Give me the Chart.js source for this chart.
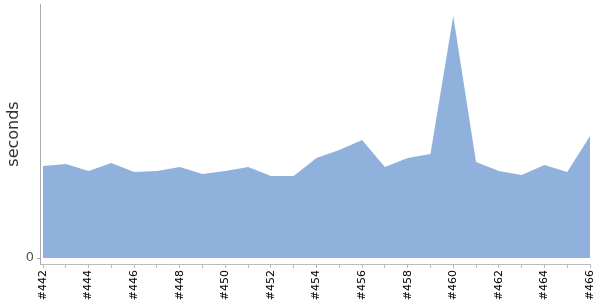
<!DOCTYPE html>
<html><head><meta charset="utf-8">
<script src="https://cdn.jsdelivr.net/npm/chart.js@4/dist/chart.umd.min.js"></script>
<style>html,body{margin:0;padding:0;background:#fff}#wrap{width:600px;height:300px}</style>
</head><body><div id="wrap"><canvas id="c"></canvas></div>
<script>
const builds = [442,443,444,445,446,447,448,449,450,451,452,453,454,455,456,457,458,459,460,461,462,463,464,465,466];
const seconds = [92,94,87,95,86,87,91,84,87,91,82,82,100,108,118,91,100,104,242,96,87,83,93,86,122];
const yTickValues = [0];
const data = builds.map((b,i)=>({x:b,y:seconds[i]}));
new Chart(document.getElementById('c'), {
  type:'line',
  data:{datasets:[{data, fill:'origin', backgroundColor:'#8fb1db', borderColor:'#8fb1db', borderWidth:0, pointRadius:0, tension:0}]},
  options:{
    responsive:true, maintainAspectRatio:false, animation:false,
    layout:{padding:{top:4,right:10,left:0,bottom:0}},
    plugins:{legend:{display:false}, tooltip:{enabled:false}},
    scales:{
      x:{type:'linear', min:441.868, max:466,
        afterBuildTicks:(s)=>{s.ticks=builds.map(v=>({value:v}));},
        afterFit:(s)=>{s.height=36; s.paddingLeft=0; s.paddingRight=0;},
        ticks:{autoSkip:false, minRotation:90, maxRotation:90, color:'#000', padding:2,
          font:{family:'DejaVu Sans', size:11},
          callback:(v)=> (v%2===0 ? '#'+v : '')},
        grid:{drawOnChartArea:false, drawTicks:true, tickLength:4, color:'#bbb'},
        border:{color:'#bbb'}},
      y:{min:-6, max:254,
        afterBuildTicks:(s)=>{s.ticks=yTickValues.map(v=>({value:v}));},
        afterFit:(s)=>{s.width=40; s.paddingTop=0; s.paddingBottom=0;},
        ticks:{color:'#555', padding:3, font:{family:'DejaVu Sans', size:13}},
        grid:{drawOnChartArea:false, drawTicks:true, tickLength:3, color:'#aaa'},
        border:{color:'#aaa'},
        title:{display:true, text:'seconds', color:'#333', padding:{top:4,bottom:0}, font:{family:'DejaVu Sans', size:16}}}
    }
  }
});
</script></body></html>
